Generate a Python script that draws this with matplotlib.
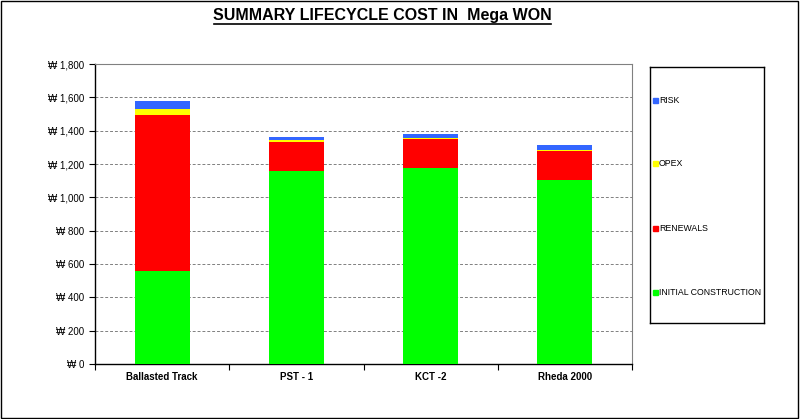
import matplotlib
matplotlib.use("Agg")
import matplotlib.pyplot as plt
from matplotlib.patches import Rectangle
from matplotlib.ticker import FuncFormatter, MultipleLocator, FixedLocator

plt.rcParams['font.family'] = ['Liberation Sans', 'DejaVu Sans']

categories = ["Ballasted Track", "PST - 1", "KCT -2", "Rheda 2000"]
initial_construction = [558, 1160, 1175, 1104]
renewals = [936, 172, 175, 174]
opex = [36, 10, 6, 6]
risk = [48, 20, 24, 32]

series = [
    ("INITIAL CONSTRUCTION", initial_construction, "#00ff00"),
    ("RENEWALS", renewals, "#ff0000"),
    ("OPEX", opex, "#ffff00"),
    ("RISK", risk, "#3366ff"),
]

fig = plt.figure(figsize=(8, 4.19), dpi=100)
fig.patch.set_facecolor("white")
fig.add_artist(Rectangle((0.001, 0.002), 0.997, 0.995, transform=fig.transFigure,
                         fill=False, edgecolor="black", linewidth=1))

ax = fig.add_axes([95/800, 1-364/419, (632-95)/800, (364-64)/419])
x = list(range(len(categories)))
bottom = [0]*len(categories)
for name, vals, col in series:
    ax.bar(x, vals, bottom=bottom, width=0.41, color=col, label=name, zorder=3)
    bottom = [b+v for b, v in zip(bottom, vals)]

ax.set_ylim(0, 1800)
ax.set_xlim(-0.5, len(categories)-0.5)
ax.yaxis.set_major_locator(MultipleLocator(200))
ax.yaxis.set_major_formatter(FuncFormatter(lambda v, p: "\u20a9 {:,.0f}".format(v)))
# major ticks at category boundaries, labels at centres
ax.xaxis.set_major_locator(FixedLocator([i - 0.5 for i in range(len(categories)+1)]))
ax.xaxis.set_major_formatter(FuncFormatter(lambda v, p: ""))
ax.xaxis.set_minor_locator(FixedLocator(x))
ax.set_xticklabels(categories, minor=True, fontsize=7, fontweight="bold")
ax.tick_params(axis='x', which='minor', length=0, pad=6)
ax.tick_params(axis='x', which='major', length=4, direction='out')
ax.tick_params(axis='y', labelsize=7, length=4, direction='out', colors='black')
ax.grid(axis='y', linestyle=(0, (3, 2)), color="#808080", linewidth=0.7, zorder=0)
for s in ["top", "right"]:
    ax.spines[s].set_color("#808080")
    ax.spines[s].set_linewidth(0.8)
for s in ["left", "bottom"]:
    ax.spines[s].set_color("black")
    ax.spines[s].set_linewidth(1)

fig.text(382/800, 1-15.5/419, "SUMMARY LIFECYCLE COST IN  Mega WON", ha="center", va="center",
         fontsize=11.5, fontweight="bold")
fig.add_artist(plt.Line2D([214/800, 551/800], [1-24/419, 1-24/419], color="black", linewidth=1.2))

# legend box
lax = fig.add_axes([650/800, 1-323/419, (764-650)/800, (323-67)/419])
lax.set_xlim(0, 114)
lax.set_ylim(323, 67)
lax.set_xticks([]); lax.set_yticks([])
for s in lax.spines.values():
    s.set_color("black"); s.set_linewidth(1)
ys = {"RISK": 100, "OPEX": 163, "RENEWALS": 228, "INITIAL CONSTRUCTION": 292}
for name, vals, col in series:
    yy = ys[name]
    lax.add_patch(Rectangle((3, yy-2.5), 5, 5, color=col))
    lax.text(9, yy, name, fontsize=6.3, va="center", ha="left")

fig.savefig("out.png", dpi=100)
